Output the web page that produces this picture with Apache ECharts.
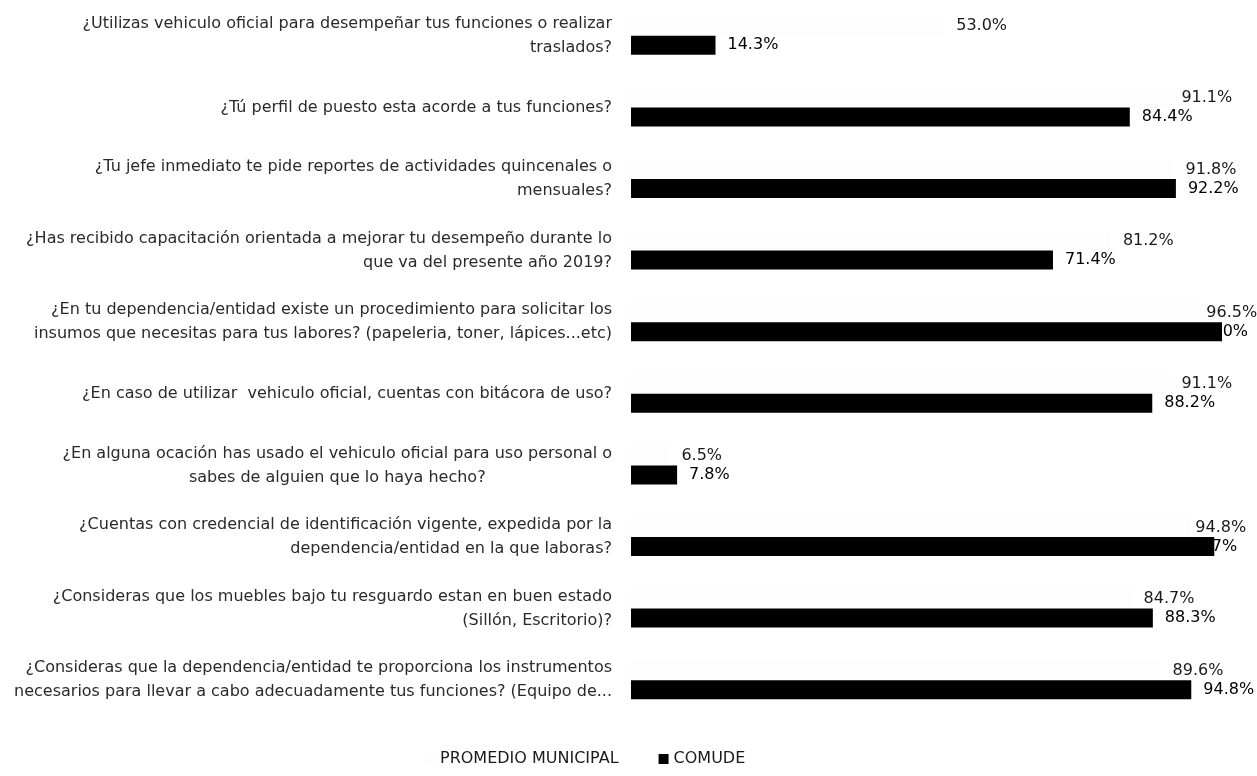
<!DOCTYPE html>
<html>
<head>
<meta charset="utf-8">
<script src="https://cdn.jsdelivr.net/npm/echarts@6/dist/echarts.min.js"></script>
<style>
  html, body { margin: 0; padding: 0; background: #fff; }
  #chart { width: 1257px; height: 776px; }
</style>
</head>
<body>
<div id="chart"></div>
<script>
// === ДАННЫЕ ===
const categories = [
    '¿Utilizas vehiculo oficial para desempeñar tus funciones o realizar\ntraslados?',
    '¿Tú perfil de puesto esta acorde a tus funciones?',
    '¿Tu jefe inmediato te pide reportes de actividades quincenales o\nmensuales?',
    '¿Has recibido capacitación orientada a mejorar tu desempeño durante lo\nque va del presente año 2019?',
    '¿En tu dependencia/entidad existe un procedimiento para solicitar los\ninsumos que necesitas para tus labores? (papeleria, toner, lápices...etc)',
    '¿En caso de utilizar  vehiculo oficial, cuentas con bitácora de uso?',
    '¿En alguna ocación has usado el vehiculo oficial para uso personal o\nsabes de alguien que lo haya hecho?',
    '¿Cuentas con credencial de identificación vigente, expedida por la\ndependencia/entidad en la que laboras?',
    '¿Consideras que los muebles bajo tu resguardo estan en buen estado\n(Sillón, Escritorio)?',
    '¿Consideras que la dependencia/entidad te proporciona los instrumentos\nnecesarios para llevar a cabo adecuadamente tus funciones? (Equipo de...'
];
const promedioMunicipal = [53.0, 91.1, 91.8, 81.2, 96.5, 91.1, 6.5, 94.8, 84.7, 89.6];
const comude = [14.3, 84.4, 92.2, 71.4, 100.0, 88.2, 7.8, 98.7, 88.3, 94.8];
const seriesNames = ['PROMEDIO MUNICIPAL', 'COMUDE'];

// === НАСТРОЙКИ ===
const FONT = '"DejaVu Sans", sans-serif';
const TEXT_COLOR = '#1a1a1a';
// подписи, которые в оригинале сдвинуты влево (у COMUDE частично спрятаны под столбцом)
const comudeLabelShift = { 4: -47, 7: -40 };
const promedioLabelShift = { 4: -7, 7: -8 };
// категории, у которых вторая строка выровнена по центру
const centeredSecondLine = [6];

// === РЕНДЕРИНГ ===
const chart = echarts.init(document.getElementById('chart'));

const labelBase = {
    show: true,
    position: 'right',
    distance: 12,
    color: TEXT_COLOR,
    fontFamily: FONT,
    fontSize: 16,
    textBorderWidth: 0,
    textBorderColor: 'transparent',
    formatter: p => p.value.toFixed(1) + '%'
};

const axisText = { color: '#2a2a2a', fontFamily: FONT, fontSize: 16, lineHeight: 24 };

function withShift(values, shifts) {
    return values.map((v, i) => {
        const item = { value: v };
        if (shifts[i] !== undefined) {
            item.label = { offset: [shifts[i], 0] };
        }
        return item;
    });
}

const option = {
    animation: false,
    backgroundColor: '#fff',
    grid: { left: 631, right: 35, top: -4, bottom: 60, containLabel: false },
    xAxis: {
        type: 'value', min: 0, max: 100, show: false
    },
    yAxis: {
        type: 'category',
        inverse: true,
        data: categories,
        axisLine: { show: false },
        axisTick: { show: false },
        axisLabel: Object.assign({
            margin: 19,
            align: 'right',
            formatter: (value, index) => {
                const lines = value.split('\n');
                if (centeredSecondLine.indexOf(index) >= 0 && lines.length > 1) {
                    return '{r|' + lines[0] + '}\n{c|' + lines[1] + '}';
                }
                return lines.map(l => '{r|' + l + '}').join('\n');
            },
            rich: {
                r: Object.assign({ align: 'right' }, axisText),
                c: Object.assign({ align: 'center' }, axisText)
            }
        }, axisText)
    },
    legend: {
        bottom: 4,
        left: 420,
        itemWidth: 10,
        itemHeight: 10,
        itemGap: 40,
        icon: 'rect',
        textStyle: { color: TEXT_COLOR, fontFamily: FONT, fontSize: 16 },
        data: seriesNames
    },
    series: [
        {
            name: seriesNames[0],
            type: 'bar',
            data: withShift(promedioMunicipal, promedioLabelShift),
            barWidth: 19,
            barGap: '0%',
            itemStyle: { color: '#fdfdfd' },
            label: labelBase
        },
        {
            name: seriesNames[1],
            type: 'bar',
            barWidth: 19,
            barGap: '0%',
            data: withShift(comude, comudeLabelShift),
            itemStyle: { color: '#000' },
            label: Object.assign({}, labelBase, { color: '#000' })
        }
    ]
};

chart.setOption(option);
</script>
</body>
</html>
